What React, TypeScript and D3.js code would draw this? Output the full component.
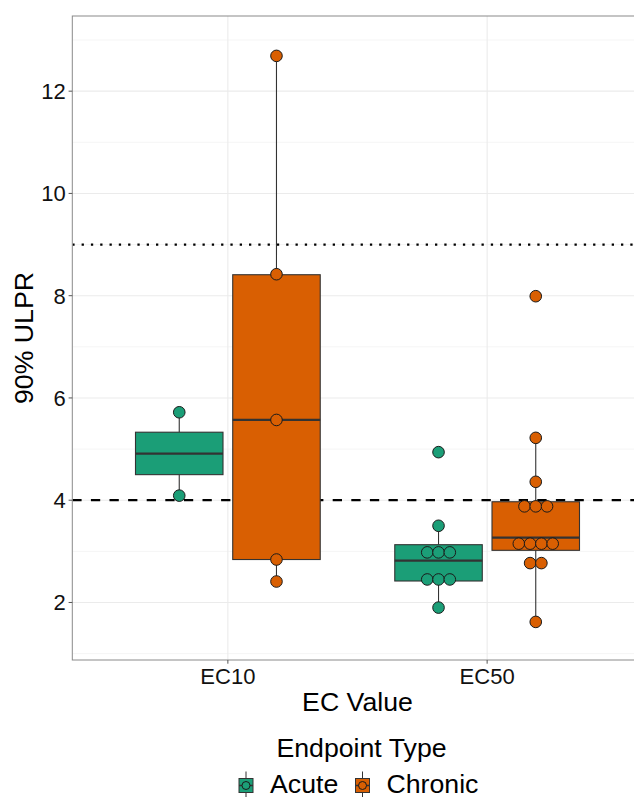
import React from "react";
import * as d3 from "d3";

// Categories and groups
const ecGroups = ["EC10", "EC50"];
const endpointTypes = ["Acute", "Chronic"];
const typeColors = ["#1B9E77", "#D95F02"];

// Box summaries, one entry per EC group x endpoint type
const boxGroup = ["EC10", "EC10", "EC50", "EC50"];
const boxType = ["Acute", "Chronic", "Acute", "Chronic"];
const boxQ1 = [4.5, 2.84, 2.42, 3.02];
const boxMedian = [4.91, 5.57, 2.82, 3.27];
const boxQ3 = [5.33, 8.41, 3.13, 3.97];
const whiskerLow = [4.09, 2.41, 1.9, 1.62];
const whiskerHigh = [5.72, 12.69, 3.5, 5.22];

// Binned ULPR values shown as stacked dots
const dotsEC10Acute = [4.09, 5.72];
const dotsEC10Chronic = [2.41, 2.84, 5.57, 8.42, 12.69];
const dotsEC50Acute = [1.9, 2.45, 2.45, 2.45, 2.98, 2.98, 2.98, 3.5, 4.94];
const dotsEC50Chronic = [1.62, 2.77, 2.77, 3.15, 3.15, 3.15, 3.15, 3.88, 3.88, 3.88, 4.36, 5.22, 7.99];

// Reference lines
const refValues = [4, 9];
const refDash = ["9.3 9.3", "2.3 7"];

const yTicks = [2, 4, 6, 8, 10, 12];
const yMinor = [1, 3, 5, 7, 9, 11, 13];

const W = 634;
const H = 799;
const FONT = "'Liberation Sans', Arial, Helvetica, sans-serif";

export default function App() {
  const panel = { left: 72.3, right: 642.7, top: 16, bottom: 660 };
  const y = d3.scaleLinear().domain([0.875, 13.47]).range([panel.bottom, panel.top]);
  const x = d3
    .scaleLinear()
    .domain([0.4, 2.6])
    .range([panel.left, panel.right]);
  const catX = (g: string) => x(ecGroups.indexOf(g) + 1);
  const dodge = (t: string) => (endpointTypes.indexOf(t) === 0 ? -0.1875 : 0.1875);
  const unit = x(1) - x(0);
  const boxW = 0.3375 * unit;
  const color = d3.scaleOrdinal<string, string>().domain(endpointTypes).range(typeColors);

  const dotSets = [
    { g: "EC10", t: "Acute", v: dotsEC10Acute },
    { g: "EC10", t: "Chronic", v: dotsEC10Chronic },
    { g: "EC50", t: "Acute", v: dotsEC50Acute },
    { g: "EC50", t: "Chronic", v: dotsEC50Chronic },
  ];
  const dotStep = 11.3;
  const dotR = 5.8;

  const dots: { cx: number; cy: number; fill: string; key: string }[] = [];
  dotSets.forEach((s) => {
    const cx0 = catX(s.g) + dodge(s.t) * unit;
    const bins = d3.rollups(s.v, (a) => a.length, (d) => d);
    bins.forEach(([val, n]) => {
      for (let i = 0; i < n; i++) {
        dots.push({
          cx: cx0 + (i - (n - 1) / 2) * dotStep,
          cy: y(val),
          fill: color(s.t),
          key: `${s.g}-${s.t}-${val}-${i}`,
        });
      }
    });
  });

  const lineCol = "#333333";

  return (
    <svg
      width={W}
      height={H}
      style={{ position: "absolute", left: 0, top: 0, background: "#fff" }}
      fontFamily={FONT}
    >
      <defs>
        <clipPath id="panel-clip">
          <rect x={panel.left} y={panel.top} width={panel.right - panel.left} height={panel.bottom - panel.top} />
        </clipPath>
      </defs>
      <rect x={0} y={0} width={W} height={H} fill="#fff" />

      <g clipPath="url(#panel-clip)">
        {yMinor.map((v) => (
          <line key={`mn${v}`} x1={panel.left} x2={panel.right} y1={y(v)} y2={y(v)} stroke="#F2F2F2" strokeWidth={0.8} />
        ))}
        {yTicks.map((v) => (
          <line key={`mj${v}`} x1={panel.left} x2={panel.right} y1={y(v)} y2={y(v)} stroke="#EBEBEB" strokeWidth={1.1} />
        ))}
        {ecGroups.map((g) => (
          <line key={`vx${g}`} x1={catX(g)} x2={catX(g)} y1={panel.top} y2={panel.bottom} stroke="#EBEBEB" strokeWidth={1.1} />
        ))}

        {refValues.map((v, i) => (
          <line
            key={`ref${v}`}
            x1={panel.left}
            x2={panel.right}
            y1={y(v)}
            y2={y(v)}
            stroke="#000"
            strokeWidth={2.3}
            strokeDasharray={refDash[i]}
          />
        ))}

        {boxGroup.map((g, i) => {
          const cx = catX(g) + dodge(boxType[i]) * unit;
          return (
            <g key={`box${i}`}>
              <line x1={cx} x2={cx} y1={y(boxQ3[i])} y2={y(whiskerHigh[i])} stroke={lineCol} strokeWidth={1.1} />
              <line x1={cx} x2={cx} y1={y(boxQ1[i])} y2={y(whiskerLow[i])} stroke={lineCol} strokeWidth={1.1} />
              <rect
                x={cx - boxW / 2}
                y={y(boxQ3[i])}
                width={boxW}
                height={y(boxQ1[i]) - y(boxQ3[i])}
                fill={color(boxType[i])}
                stroke={lineCol}
                strokeWidth={1.1}
              />
              <line
                x1={cx - boxW / 2}
                x2={cx + boxW / 2}
                y1={y(boxMedian[i])}
                y2={y(boxMedian[i])}
                stroke={lineCol}
                strokeWidth={2.3}
              />
            </g>
          );
        })}

        {dots.map((d) => (
          <circle key={d.key} cx={d.cx} cy={d.cy} r={dotR} fill={d.fill} stroke="#1a1a1a" strokeWidth={1} />
        ))}
      </g>

      {/* panel border */}
      <rect
        x={panel.left}
        y={panel.top}
        width={panel.right - panel.left}
        height={panel.bottom - panel.top}
        fill="none"
        stroke="#8a8a8a"
        strokeWidth={1}
      />

      {/* y axis */}
      {yTicks.map((v) => (
        <g key={`yt${v}`}>
          <line x1={panel.left - 3.7} x2={panel.left} y1={y(v)} y2={y(v)} stroke="#555" strokeWidth={1} />
          <text x={panel.left - 6.6} y={y(v)} dy="0.36em" textAnchor="end" fontSize={22} fill="#111">
            {v}
          </text>
        </g>
      ))}
      <text
        transform={`translate(${33},${(panel.top + panel.bottom) / 2}) rotate(-90)`}
        textAnchor="middle"
        fontSize={26.7}
        fill="#000"
      >
        90% ULPR
      </text>

      {/* x axis */}
      {ecGroups.map((g) => (
        <g key={`xt${g}`}>
          <line x1={catX(g)} x2={catX(g)} y1={panel.bottom} y2={panel.bottom + 3.7} stroke="#555" strokeWidth={1} />
          <text x={catX(g)} y={684} textAnchor="middle" fontSize={22} fill="#111">
            {g}
          </text>
        </g>
      ))}
      <text x={(panel.left + panel.right) / 2} y={711} textAnchor="middle" fontSize={26.7} fill="#000">
        EC Value
      </text>

      {/* legend */}
      <text x={361.5} y={757} textAnchor="middle" fontSize={26.7} fill="#000">
        Endpoint Type
      </text>
      {endpointTypes.map((t, i) => {
        const kx = i === 0 ? 246 : 362.5;
        const ky = 785.5;
        return (
          <g key={`lg${t}`}>
            <line x1={kx} x2={kx} y1={ky - 14} y2={ky + 11.5} stroke={lineCol} strokeWidth={1} />
            <rect x={kx - 7} y={ky - 7} width={14} height={14} fill={color(t)} stroke={lineCol} strokeWidth={1} />
            <line x1={kx - 7} x2={kx + 7} y1={ky} y2={ky} stroke={lineCol} strokeWidth={1.5} />
            <circle cx={kx} cy={ky} r={4} fill={color(t)} stroke="#1a1a1a" strokeWidth={1} />
            <text x={kx + 24} y={793.3} fontSize={26.7} fill="#000">
              {t}
            </text>
          </g>
        );
      })}
    </svg>
  );
}
